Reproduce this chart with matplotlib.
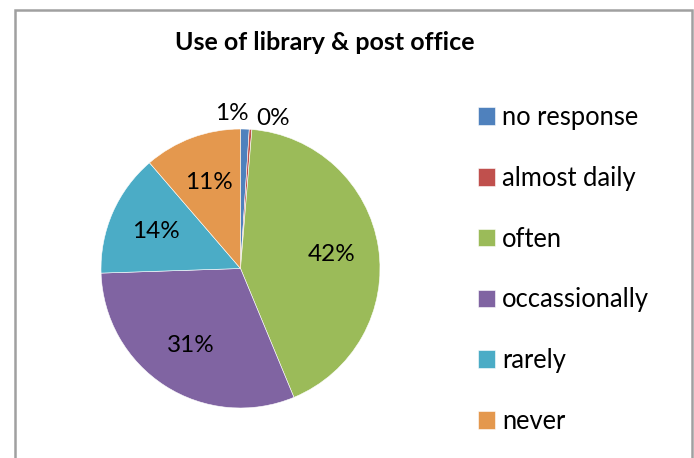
import numpy as np
import matplotlib
matplotlib.use("Agg")
import matplotlib.pyplot as plt
from matplotlib.patches import Rectangle

categories = ["no response", "almost daily", "often", "occassionally", "rarely", "never"]
values = [1.0, 0.3, 42.4, 30.7, 14.2, 11.3]
colors = ["#4F81BD", "#C0504D", "#9BBB59", "#8064A2", "#4BACC6", "#E4984E"]
title = "Use of library & post office"

plt.rcParams['font.family'] = ['Lato', 'DejaVu Sans']

W, H = 694, 458
fig = plt.figure(figsize=(W / 100, H / 100), dpi=100)

cx, cy, r = 240.5, 268.5, 139.5
ax = fig.add_axes([(cx - r) / W, (H - cy - r) / H, 2 * r / W, 2 * r / H])

wedges, texts, autotexts = ax.pie(
    values, colors=colors, startangle=90, counterclock=False,
    autopct=lambda p: f"{p:.0f}%", pctdistance=0.66,
    wedgeprops=dict(edgecolor="white", linewidth=0.4),
    textprops=dict(fontsize=17.5, color="black"),
)
ax.set_xlim(-1, 1)
ax.set_ylim(-1, 1)
ax.set_aspect("equal")

# move labels of the tiny slices outside, like Excel
for i, (w, t) in enumerate(zip(wedges, autotexts)):
    if values[i] / sum(values) < 0.03:
        ang = np.deg2rad((w.theta1 + w.theta2) / 2)
        x, y = 1.12 * np.cos(ang), 1.12 * np.sin(ang)
        if i == 0:
            t.set_position((x + 0.02, y - 0.01))
            t.set_ha("right")
        else:
            t.set_position((x + 0.03, y - 0.04))
            t.set_ha("left")

fig.text(325 / W, 1 - 43 / H, title, ha="center", va="center",
         fontsize=18, fontweight="bold")

leg = fig.legend(wedges, categories, loc="upper left",
                 bbox_to_anchor=(478 / W, 1 - 105 / H),
                 frameon=False, fontsize=18.4, handlelength=0.68, handleheight=0.68,
                 handletextpad=0.25, labelspacing=1.40, borderpad=0, borderaxespad=0)

fig.patches.append(Rectangle((15 / W, -0.05), (692 - 15) / W, 1.05 - 10 / H,
                             transform=fig.transFigure, fill=False,
                             edgecolor="#a0a0a0", linewidth=1.8, clip_on=False))

fig.savefig("out.png", dpi=100, facecolor="white")
